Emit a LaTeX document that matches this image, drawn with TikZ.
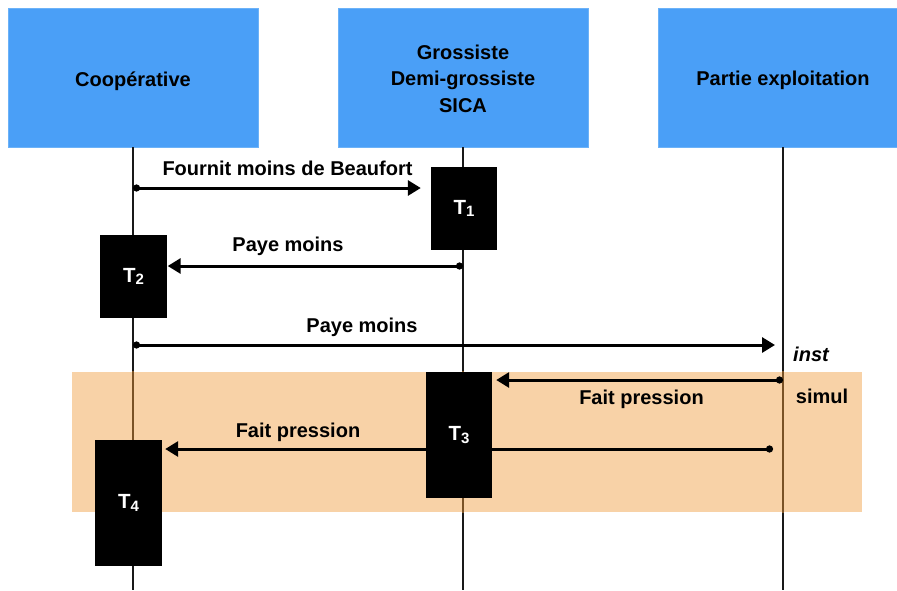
\documentclass[tikz,border=0pt]{standalone}
\usepackage{fontspec}
\setmainfont{Liberation Sans}
\usetikzlibrary{arrows.meta}
\definecolor{boxblue}{HTML}{4A9FF7}
\definecolor{boxedge}{HTML}{6CB2F8}
\definecolor{bandorange}{HTML}{F8D2A7}
\definecolor{lifebrown}{HTML}{7A5226}
\newcommand{\tsub}[1]{\raisebox{-2.5pt}{\fontsize{15}{15}\selectfont #1}}
\begin{document}
\begin{tikzpicture}[x=1pt,y=-1pt,
 actor/.style={fill=boxblue, draw=boxedge, line width=0.8pt, minimum width=250pt, minimum height=139pt, inner sep=0pt},
 taskbox/.style={fill=black, minimum width=66pt, inner sep=0pt, text=white, font=\fontsize{20.5}{22}\selectfont\bfseries},
 lbl/.style={anchor=base, inner sep=0pt, font=\fontsize{20}{24}\selectfont\bfseries},
 msg/.style={line width=3pt, {Circle[length=7pt]}-{Triangle[length=13pt,width=15pt]}},
 life/.style={line width=1.4pt, draw=black!90},
 bandbox/.style={fill=bandorange, minimum width=790pt, minimum height=140pt, inner sep=0pt}
]
\useasboundingbox (0,0) rectangle (897,590);
\clip (0,0) rectangle (897,590);

% actors
\node[actor] (coop) at (133,77.5) {};
\node[actor] (gros) at (463,77.5) {};
\node[actor] (part) at (783,77.5) {};
\node[lbl] (tcoop) at (133,86) {Coopérative};
\node[lbl] (tg1) at (463,59) {Grossiste};
\node[lbl] (tg2) at (463,85.5) {Demi-grossiste};
\node[lbl] (tg3) at (463,112) {SICA};
\node[lbl] (tpart) at (783,85.5) {Partie exploitation};

% lifelines
\coordinate (l1b) at (133,590);
\coordinate (l2b) at (463,590);
\coordinate (l3b) at (783,590);
\draw[life] (coop.south) -- (l1b);
\draw[life] (gros.south) -- (l2b);
\draw[life] (part.south) -- (l3b);

% simultaneity band
\node[bandbox] (band) at (467,442) {};
\begin{scope}
\clip (band.north west) rectangle (band.south east);
\draw[life, draw=lifebrown] (coop.south) -- (l1b);
\draw[life, draw=lifebrown] (gros.south) -- (l2b);
\draw[life, draw=lifebrown] (part.south) -- (l3b);
\end{scope}

% message behind T3
\coordinate (m5s) at (773,449);
\node[taskbox, minimum width=67pt, minimum height=126pt] (t4) at (128.5,503) {T\tsub{4}};
\draw[msg, shorten >=3pt] (m5s) -- (m5s -| t4.east);

% tasks
\node[taskbox, minimum height=83pt] (t1) at (464,208.5) {T\tsub{1}};
\node[taskbox, minimum width=67pt, minimum height=83pt] (t2) at (133.5,276.5) {T\tsub{2}};
\node[taskbox, minimum height=126pt] (t3) at (459,435) {T\tsub{3}};

% messages
\coordinate (m1s) at (133,188);
\coordinate (m2s) at (463,266);
\coordinate (m3s) at (133,345);
\coordinate (m4s) at (783,380);
\draw[msg, shorten >=10pt] (m1s) -- (m1s -| t1.west);
\draw[msg, shorten >=0.5pt] (m2s) -- (m2s -| t2.east);
\draw[msg, shorten >=8pt] (m3s) -- (m3s -| part.south);
\draw[msg, shorten >=4pt] (m4s) -- (m4s -| t3.east);

% labels
\node[lbl] (lab1) at (287.5,175) {Fournit moins de Beaufort};
\node[lbl] (lab2) at (288,251) {Paye moins};
\node[lbl] (lab3) at (362,332) {Paye moins};
\node[lbl] (lab4) at (641.5,404) {Fait pression};
\node[lbl] (lab5) at (298,437) {Fait pression};
\node[lbl, font=\fontsize{20}{24}\selectfont\bfseries\itshape] (inst) at (811,361) {inst};
\node[lbl] (simul) at (822,403) {simul};
\end{tikzpicture}
\end{document}
